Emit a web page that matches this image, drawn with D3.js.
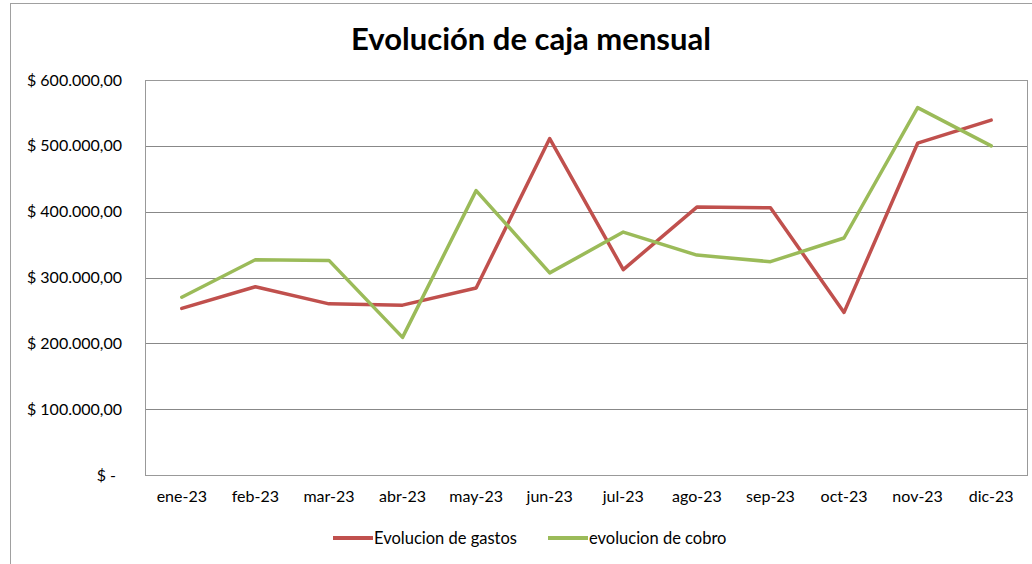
<!DOCTYPE html>
<html>
<head>
<meta charset="utf-8">
<script src="https://cdn.jsdelivr.net/npm/d3@7"></script>
<style>
    body { margin: 0; background: #fff; }
    text { font-family: Lato, "Open Sans", sans-serif; fill: #000; }
</style>
</head>
<body>
<script>
// Chart data
var months = ["ene-23", "feb-23", "mar-23", "abr-23", "may-23", "jun-23",
              "jul-23", "ago-23", "sep-23", "oct-23", "nov-23", "dic-23"];
var gastos = [253000, 286000, 260000, 258000, 284000, 511000,
              312000, 407000, 406000, 247000, 504000, 539000];
var cobro = [270000, 327000, 326000, 209000, 432000, 307000,
             369000, 334000, 324000, 360000, 558000, 500000];
var seriesNames = ["Evolucion de gastos", "evolucion de cobro"];
var yTicks = [0, 100000, 200000, 300000, 400000, 500000, 600000];

var W = 1032, H = 564;
// plot area inside the chart box
var margin = {top: 80, right: 4, bottom: 89, left: 145},
    width = W - margin.left - margin.right,
    height = H - margin.top - margin.bottom;

var svg = d3.select("body").append("svg")
    .attr("width", W)
    .attr("height", H);

// outer chart border (runs off the right and bottom edges)
svg.append("rect")
    .attr("x", 10.5).attr("y", 3.5)
    .attr("width", W).attr("height", H)
    .attr("fill", "none")
    .attr("stroke", "#a0a0a0");

svg.append("text")
    .attr("x", 531).attr("y", 50)
    .attr("text-anchor", "middle")
    .attr("font-size", "31px")
    .attr("font-weight", "bold")
    .text("Evolución de caja mensual");

var g = svg.append("g")
    .attr("transform", "translate(" + margin.left + "," + margin.top + ")");

var xScale = d3.scaleBand().domain(months).range([0, width]);
var yScale = d3.scaleLinear().domain([0, 600000]).range([height, 0]);

// number format like "$ 600.000,00"
var fmt = d3.formatLocale({decimal: ",", thousands: ".",
                           grouping: [3], currency: ["$", ""]}).format(",.2f");

// gridlines
g.selectAll("line.grid")
    .data(yTicks.filter(function(d) { return d > 0; }))
    .enter().append("line")
    .attr("class", "grid")
    .attr("x1", 0).attr("x2", width)
    .attr("y1", function(d) { return Math.round(yScale(d)) + 0.5; })
    .attr("y2", function(d) { return Math.round(yScale(d)) + 0.5; })
    .attr("stroke", "#888")
    .attr("stroke-width", 1);

// plot area border
g.append("rect")
    .attr("x", 0.5).attr("y", 0.5)
    .attr("width", width - 1).attr("height", height)
    .attr("fill", "none")
    .attr("stroke", "#999");

// y axis labels
var yAxis = d3.axisLeft(yScale).tickValues(yTicks).tickSize(0)
    .tickPadding(23)
    .tickFormat(function(d) { return d === 0 ? "$ -" : "$ " + fmt(d); });
var yg = g.append("g").call(yAxis);
yg.select(".domain").remove();
yg.selectAll("text")
    .attr("font-size", "16px")
    .attr("font-family", "Lato, sans-serif")
    .attr("fill", "#000");
yg.selectAll(".tick").filter(function(d) { return d === 0; })
    .select("text").attr("dx", "-6");

// x axis labels
var xAxis = d3.axisBottom(xScale).tickSize(0).tickPadding(16);
var xg = g.append("g")
    .attr("transform", "translate(0," + height + ")")
    .call(xAxis);
xg.select(".domain").remove();
xg.selectAll("text")
    .attr("font-size", "16px")
    .attr("font-family", "Lato, sans-serif")
    .attr("fill", "#000");

// lines
var colors = ["#C0504D", "#9BBB59"];
var line = d3.line()
    .x(function(d, i) { return xScale(months[i]) + xScale.bandwidth() / 2; })
    .y(function(d) { return yScale(d); });

[gastos, cobro].forEach(function(s, i) {
    g.append("path")
        .datum(s)
        .attr("d", line)
        .attr("fill", "none")
        .attr("stroke", colors[i])
        .attr("stroke-width", 3.5)
        .attr("stroke-linejoin", "round")
        .attr("stroke-linecap", "round");
});

// legend
var legendX = [333, 548];
var legend = svg.selectAll("g.legend")
    .data(seriesNames)
    .enter().append("g")
    .attr("class", "legend")
    .attr("transform", function(d, i) {
        return "translate(" + legendX[i] + ",538)";
    });
legend.append("line")
    .attr("x1", 0).attr("x2", 40)
    .attr("stroke", function(d, i) { return colors[i]; })
    .attr("stroke-width", 4);
legend.append("text")
    .attr("x", 41).attr("y", 5.5)
    .attr("font-size", "16.5px")
    .text(function(d) { return d; });
</script>
</body>
</html>
